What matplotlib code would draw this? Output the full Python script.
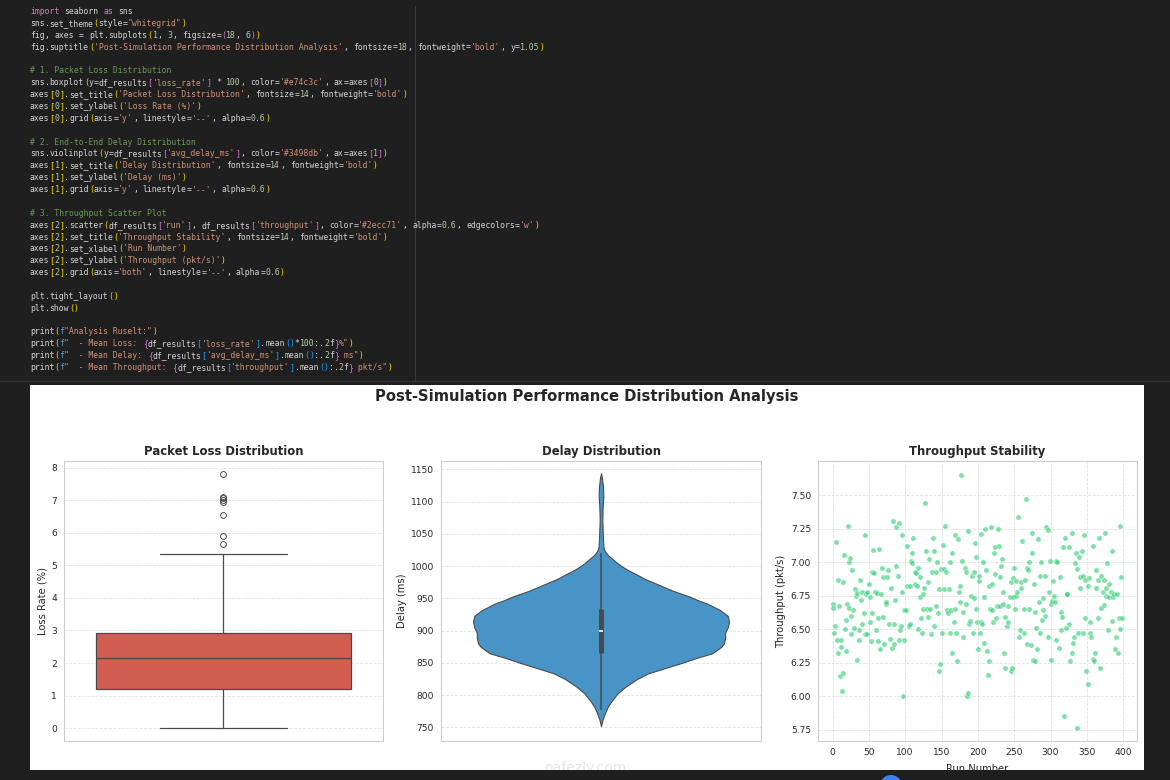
import re
import matplotlib
matplotlib.use("Agg")
import matplotlib.pyplot as plt
from matplotlib.patches import Rectangle, Ellipse
import seaborn as sns

# ---- data ----
loss_q1 = 1.22
loss_median = 2.15
loss_q3 = 2.93
loss_whisker_low = 0.0
loss_whisker_high = 5.35
loss_outliers = [5.65, 5.9, 6.55, 6.95, 7.0, 7.05, 7.1, 7.8]

delay_levels = [752, 762, 772, 783, 793, 803, 813, 825, 834, 842, 850, 858, 865, 875,
                880, 889, 897, 905, 914, 923, 932, 942, 947, 953, 962, 973, 980, 988,
                994, 1000, 1006, 1012, 1017, 1022, 1026, 1030, 1040, 1056, 1071,
                1092, 1108, 1123, 1136, 1144]
delay_density = [0, 0.012, 0.03, 0.055, 0.09, 0.13, 0.19, 0.28, 0.37, 0.50, 0.63, 0.75,
                 0.87, 0.94, 0.96, 0.97, 0.97, 0.99, 1.0, 0.99, 0.93, 0.83, 0.76, 0.69,
                 0.56, 0.43, 0.345, 0.27, 0.21, 0.16, 0.12, 0.085, 0.055, 0.035, 0.024,
                 0.019, 0.016, 0.013, 0.010, 0.013, 0.018, 0.016, 0.008, 0]
delay_q1 = 866
delay_median = 900
delay_q3 = 933
delay_whisker_low = 777
delay_whisker_high = 1021

runs = [0, 1, 2, 4, 5, 6, 7, 8, 9, 10, 11, 12, 13, 14, 15, 16, 17, 18, 19, 20,
        21, 22, 23, 24, 25, 26, 27, 28, 29, 31, 32, 33, 34, 36, 37, 38, 39, 40, 41, 43,
        44, 45, 46, 47, 48, 50, 51, 52, 53, 54, 55, 56, 57, 59, 60, 61, 62, 63, 64, 65,
        67, 68, 69, 70, 71, 73, 74, 75, 76, 78, 79, 80, 82, 83, 84, 85, 86, 87, 88, 90,
        91, 92, 93, 94, 95, 96, 97, 98, 99, 101, 102, 103, 105, 106, 107, 108, 109, 110, 111, 113,
        114, 115, 116, 117, 118, 120, 121, 122, 123, 124, 125, 126, 127, 129, 130, 131, 132, 133, 134, 136,
        137, 138, 139, 140, 142, 143, 144, 145, 146, 147, 148, 149, 150, 152, 153, 154, 155, 156, 158, 159,
        160, 161, 162, 163, 164, 165, 167, 168, 169, 170, 171, 172, 174, 175, 176, 177, 178, 179, 180, 182,
        183, 184, 185, 186, 187, 188, 189, 191, 192, 193, 194, 195, 196, 197, 198, 199, 200, 201, 202, 203,
        204, 205, 206, 207, 208, 209, 210, 211, 213, 214, 215, 216, 217, 218, 219, 220, 221, 222, 223, 224,
        225, 227, 228, 229, 230, 231, 232, 233, 234, 235, 236, 237, 238, 240, 241, 242, 244, 245, 246, 247,
        248, 249, 250, 251, 252, 253, 254, 255, 257, 258, 259, 260, 261, 263, 264, 265, 266, 267, 268, 269,
        270, 271, 273, 274, 275, 276, 277, 278, 279, 280, 282, 283, 284, 285, 286, 287, 288, 289, 290, 292,
        293, 294, 296, 297, 298, 299, 300, 301, 302, 303, 305, 306, 307, 308, 309, 311, 313, 314, 315, 316,
        317, 318, 320, 321, 322, 323, 325, 326, 327, 329, 330, 331, 332, 333, 335, 336, 337, 338, 339, 340,
        341, 343, 344, 345, 346, 347, 348, 349, 351, 352, 353, 354, 355, 356, 358, 359, 360, 361, 362, 363,
        365, 366, 367, 368, 369, 370, 372, 373, 374, 375, 376, 377, 378, 379, 380, 381, 383, 384, 385, 386,
        387, 389, 390, 392, 393, 394, 395, 396, 397, 398]
throughput = [6.69, 6.66, 6.47, 6.52, 7.15, 6.42, 6.32, 6.87, 6.67, 6.15, 6.42, 6.37, 6.04, 6.17, 6.85, 7.05, 6.50, 6.34, 6.57, 6.69,
              7.27, 7.00, 6.66, 7.03, 6.46, 6.60, 6.94, 6.64, 6.51, 6.80, 6.75, 6.27, 6.77, 6.49, 6.42, 6.87, 6.72, 6.54, 6.78, 6.62,
              7.20, 6.46, 6.76, 6.46, 6.78, 6.84, 6.55, 6.74, 6.41, 6.93, 6.62, 7.09, 6.92, 6.78, 6.49, 6.77, 6.58, 6.41, 7.10, 6.35,
              6.76, 6.96, 6.59, 6.89, 6.39, 6.69, 6.70, 6.89, 6.94, 6.54, 6.43, 6.81, 6.36, 7.31, 6.54, 6.39, 6.72, 7.26, 6.97, 6.90,
              7.29, 6.42, 6.49, 6.52, 6.78, 7.20, 6.00, 6.64, 6.42, 6.64, 6.82, 7.12, 6.52, 6.82, 6.54, 7.01, 6.99, 7.07, 7.18, 6.93,
              6.84, 6.92, 6.82, 6.50, 6.96, 6.74, 6.89, 6.58, 6.47, 6.65, 6.76, 6.81, 7.44, 7.08, 6.65, 6.59, 6.85, 7.02, 6.65, 6.46,
              6.93, 7.18, 6.52, 7.08, 6.67, 6.93, 7.00, 6.62, 6.80, 6.19, 6.24, 6.95, 6.47, 7.13, 6.80, 6.95, 7.27, 6.93, 6.64, 6.62,
              6.80, 7.00, 6.47, 6.64, 7.07, 6.32, 6.55, 6.65, 7.20, 6.47, 6.26, 7.17, 6.78, 6.70, 6.82, 7.65, 7.01, 6.44, 6.63, 6.96,
              6.69, 6.93, 6.00, 6.02, 7.23, 6.54, 6.56, 6.75, 6.90, 6.47, 6.73, 6.93, 7.14, 7.04, 6.65, 6.55, 6.35, 6.86, 6.90, 6.47,
              6.55, 7.21, 6.54, 7.00, 6.40, 6.74, 7.25, 6.94, 6.34, 6.16, 6.26, 6.82, 6.65, 7.26, 6.64, 6.84, 6.55, 7.07, 7.11, 6.91,
              6.58, 6.67, 7.25, 7.12, 6.67, 6.89, 6.97, 7.02, 6.78, 6.69, 6.32, 6.59, 6.21, 6.52, 6.55, 6.67, 6.74, 6.85, 6.19, 6.21,
              6.88, 6.74, 6.96, 6.65, 6.75, 6.86, 6.78, 7.34, 6.44, 6.49, 6.85, 6.81, 7.16, 6.47, 6.65, 6.87, 7.47, 6.96, 6.39, 6.94,
              7.00, 6.65, 6.38, 7.07, 7.22, 6.27, 6.84, 6.26, 6.63, 6.51, 6.35, 7.17, 6.70, 6.47, 6.90, 7.00, 6.57, 6.73, 6.64, 6.60,
              6.90, 7.26, 7.24, 6.44, 6.78, 7.01, 6.27, 6.69, 6.71, 6.86, 6.75, 6.70, 7.01, 6.42, 7.00, 6.36, 6.89, 6.63, 6.49, 6.59,
              7.11, 5.85, 7.18, 6.51, 6.76, 6.76, 6.54, 7.11, 6.26, 6.32, 7.22, 6.40, 6.44, 6.99, 7.07, 6.95, 5.76, 6.47, 7.04, 6.89,
              6.81, 7.08, 6.90, 6.47, 7.20, 6.87, 6.58, 6.19, 6.09, 6.82, 6.88, 6.47, 6.55, 6.44, 6.28, 7.12, 6.26, 6.32, 6.94, 6.81,
              6.87, 6.58, 7.18, 6.21, 6.90, 6.66, 6.78, 6.87, 6.68, 7.22, 6.75, 6.81, 6.99, 6.49, 6.74, 6.84, 6.78, 6.56, 7.08, 6.74,
              6.76, 6.35, 6.44, 6.76, 6.32, 6.58, 6.50, 7.27, 6.89, 6.58]

throughput_ticks = [5.75, 6.00, 6.25, 6.50, 6.75, 7.00, 7.25, 7.50]
run_ticks = [0, 50, 100, 150, 200, 250, 300, 350, 400]

CODE_LINES = [
    'import seaborn as sns',
    'sns.set_theme(style="whitegrid")',
    'fig, axes = plt.subplots(1, 3, figsize=(18, 6))',
    "fig.suptitle('Post-Simulation Performance Distribution Analysis', fontsize=18, fontweight='bold', y=1.05)",
    '',
    '# 1. Packet Loss Distribution',
    "sns.boxplot(y=df_results['loss_rate'] * 100, color='#e74c3c', ax=axes[0])",
    "axes[0].set_title('Packet Loss Distribution', fontsize=14, fontweight='bold')",
    "axes[0].set_ylabel('Loss Rate (%)')",
    "axes[0].grid(axis='y', linestyle='--', alpha=0.6)",
    '',
    '# 2. End-to-End Delay Distribution',
    "sns.violinplot(y=df_results['avg_delay_ms'], color='#3498db', ax=axes[1])",
    "axes[1].set_title('Delay Distribution', fontsize=14, fontweight='bold')",
    "axes[1].set_ylabel('Delay (ms)')",
    "axes[1].grid(axis='y', linestyle='--', alpha=0.6)",
    '',
    '# 3. Throughput Scatter Plot',
    "axes[2].scatter(df_results['run'], df_results['throughput'], color='#2ecc71', alpha=0.6, edgecolors='w')",
    "axes[2].set_title('Throughput Stability', fontsize=14, fontweight='bold')",
    "axes[2].set_xlabel('Run Number')",
    "axes[2].set_ylabel('Throughput (pkt/s)')",
    "axes[2].grid(axis='both', linestyle='--', alpha=0.6)",
    '',
    'plt.tight_layout()',
    'plt.show()',
    '',
    'print(f"Analysis Ruselt:")',
    'print(f"  - Mean Loss: {df_results[\'loss_rate\'].mean()*100:.2f}%")',
    'print(f"  - Mean Delay: {df_results[\'avg_delay_ms\'].mean():.2f} ms")',
    'print(f"  - Mean Throughput: {df_results[\'throughput\'].mean():.2f} pkt/s")',
]

# editor colours
C_TEXT = "#d4d4d4"
C_KEYWORD = "#c586c0"
C_STRING = "#ce9178"
C_NUMBER = "#b5cea8"
C_COMMENT = "#6a9955"
C_FPREFIX = "#569cd6"
BRACKETS = ["#ffd700", "#da70d6", "#179fff"]
KEYWORDS = {"import", "as"}

W, H = 1170, 780


def box(left, top, right, bottom):
    return [left / W, 1 - bottom / H, (right - left) / W, (bottom - top) / H]


def tokenize(src, depth=0):
    out = []
    i = 0
    while i < len(src):
        c = src[i]
        if c == "#":
            out.append((src[i:], C_COMMENT))
            break
        if c == "f" and src[i + 1:i + 2] in ("'", '"'):
            q = src[i + 1]
            end = src.index(q, i + 2)
            out.append(("f", C_FPREFIX))
            for part in re.split(r"(\{[^}]*\})", src[i + 1:end + 1]):
                if part.startswith("{"):
                    out.append(("{", BRACKETS[depth % 3]))
                    out += tokenize(part[1:-1], depth + 1)
                    out.append(("}", BRACKETS[depth % 3]))
                elif part:
                    out.append((part, C_STRING))
            i = end + 1
            continue
        if c in "'\"":
            end = src.index(c, i + 1)
            out.append((src[i:end + 1], C_STRING))
            i = end + 1
            continue
        if c in "([{":
            out.append((c, BRACKETS[depth % 3]))
            depth += 1
            i += 1
            continue
        if c in ")]}":
            depth -= 1
            out.append((c, BRACKETS[depth % 3]))
            i += 1
            continue
        m = re.match(r"[A-Za-z_]\w*", src[i:])
        if m:
            w = m.group(0)
            out.append((w, C_KEYWORD if w in KEYWORDS else C_TEXT))
            i += len(w)
            continue
        m = re.match(r"\d+(\.\d+)?", src[i:])
        if m:
            out.append((m.group(0), C_NUMBER))
            i += len(m.group(0))
            continue
        out.append((c, C_TEXT))
        i += 1
    return out


sns.set_theme(style="whitegrid")
plt.rcParams["font.family"] = ["DejaVu Sans"]

fig = plt.figure(figsize=(11.7, 7.8), dpi=100, facecolor="#1f1f1f")

# ---- notebook code cell ----
char_w = 4.9
for k, line in enumerate(CODE_LINES):
    y = 14 + k * 11.87
    col = 0
    for tok, colr in tokenize(line):
        if tok.strip():
            fig.text((30 + col * char_w) / W, 1 - y / H, tok, color=colr,
                     fontsize=5.9, family="DejaVu Sans Mono", va="baseline", ha="left")
        col += len(tok)

fig.add_artist(plt.Line2D([415 / W, 415 / W], [1 - 6 / H, 1 - 380 / H],
                          color="#3a3a3a", lw=0.8))
fig.add_artist(plt.Line2D([0, 1], [1 - 381 / H, 1 - 381 / H], color="#333333", lw=1))

# ---- white output panel ----
fig.add_artist(Rectangle((30 / W, 1 - 770 / H), (1144 - 30) / W, (770 - 385) / H,
                         transform=fig.transFigure, facecolor="white", edgecolor="none", zorder=0))

fig.text(587 / W, 1 - 397 / H, "Post-Simulation Performance Distribution Analysis",
         ha="center", va="center", fontsize=10.6, fontweight="bold", color=".15")

TICK_FS = 6.6
LABEL_FS = 7.2
TITLE_FS = 8.4
EDGE = "#4a4a4a"


def style_axes(ax):
    for s in ax.spines.values():
        s.set_color(".8")
        s.set_linewidth(0.75)
    ax.tick_params(length=0, pad=5, labelsize=TICK_FS, colors=".15")


# 1. packet loss box plot
ax1 = fig.add_axes(box(64, 461, 383, 741))
style_axes(ax1)
stats = [{"med": loss_median, "q1": loss_q1, "q3": loss_q3,
          "whislo": loss_whisker_low, "whishi": loss_whisker_high, "fliers": loss_outliers}]
ax1.bxp(stats, positions=[0], widths=0.8, capwidths=0.4, patch_artist=True,
        boxprops=dict(facecolor=sns.desaturate("#e74c3c", 0.75), edgecolor=EDGE, linewidth=0.9),
        whiskerprops=dict(color=EDGE, linewidth=0.9),
        capprops=dict(color=EDGE, linewidth=0.9),
        medianprops=dict(color=EDGE, linewidth=0.9),
        flierprops=dict(marker="o", markerfacecolor="none", markeredgecolor=EDGE,
                        markersize=4.2, markeredgewidth=0.7))
ax1.set_xlim(-0.5, 0.5)
ax1.set_ylim(-0.39, 8.2)
ax1.set_xticks([])
ax1.set_title("Packet Loss Distribution", fontsize=TITLE_FS, fontweight="bold", pad=4, color=".15")
ax1.set_ylabel("Loss Rate (%)", fontsize=LABEL_FS, color=".15", labelpad=3)
ax1.grid(False)
ax1.grid(axis="y", linestyle="--", alpha=0.6, color=".8", linewidth=0.6)

# 2. delay violin
ax2 = fig.add_axes(box(441, 461, 761, 741))
style_axes(ax2)
half = [d * 0.4 for d in delay_density]
ax2.fill_betweenx(delay_levels, [-h for h in half], half,
                  facecolor=sns.desaturate("#3498db", 0.75), edgecolor=EDGE, linewidth=0.8,
                  joinstyle="round", zorder=2)
ax2.vlines(0, delay_whisker_low, delay_whisker_high, color=EDGE, linewidth=1.1, zorder=3)
ax2.vlines(0, delay_q1, delay_q3, color=EDGE, linewidth=3.6, zorder=3)
ax2.plot([0], [delay_median], marker="_", color="white", markersize=3, markeredgewidth=1.2, zorder=4)
ax2.set_xlim(-0.5, 0.5)
ax2.set_ylim(729, 1163)
ax2.set_xticks([])
ax2.set_title("Delay Distribution", fontsize=TITLE_FS, fontweight="bold", pad=4, color=".15")
ax2.set_ylabel("Delay (ms)", fontsize=LABEL_FS, color=".15", labelpad=3)
ax2.grid(False)
ax2.grid(axis="y", linestyle="--", alpha=0.6, color=".8", linewidth=0.6)

# 3. throughput scatter
ax3 = fig.add_axes(box(818, 461, 1137, 741))
style_axes(ax3)
ax3.scatter(runs, throughput, color="#2ecc71", alpha=0.6, edgecolors="w", s=15, linewidths=0.5, zorder=3)
ax3.set_xlim(-20, 419)
ax3.set_ylim(5.665, 7.755)
ax3.set_xticks(run_ticks)
ax3.set_yticks(throughput_ticks)
ax3.set_yticklabels([f"{t:.2f}" for t in throughput_ticks])
ax3.set_title("Throughput Stability", fontsize=TITLE_FS, fontweight="bold", pad=4, color=".15")
ax3.set_xlabel("Run Number", fontsize=LABEL_FS, color=".15", labelpad=5)
ax3.set_ylabel("Throughput (pkt/s)", fontsize=LABEL_FS, color=".15", labelpad=3)
ax3.grid(axis="both", linestyle="--", alpha=0.6, color=".8", linewidth=0.6)

# watermark
fig.text(586 / W, 1 - 768 / H, "nafezly.com", ha="center", va="center",
         fontsize=10, color="#e6e6e6", zorder=5)

# dark strip that cuts off the bottom of the output
fig.add_artist(Rectangle((0, 0), 1, 10 / H, transform=fig.transFigure,
                         facecolor="#1f1f1f", edgecolor="none", zorder=50))
fig.add_artist(Ellipse((891 / W, 1 - 786 / H), 22 / W, 22 / H, transform=fig.transFigure,
                       facecolor="#3b82f6", edgecolor="none", zorder=60))

fig.savefig("out.png", dpi=100, facecolor=fig.get_facecolor())
